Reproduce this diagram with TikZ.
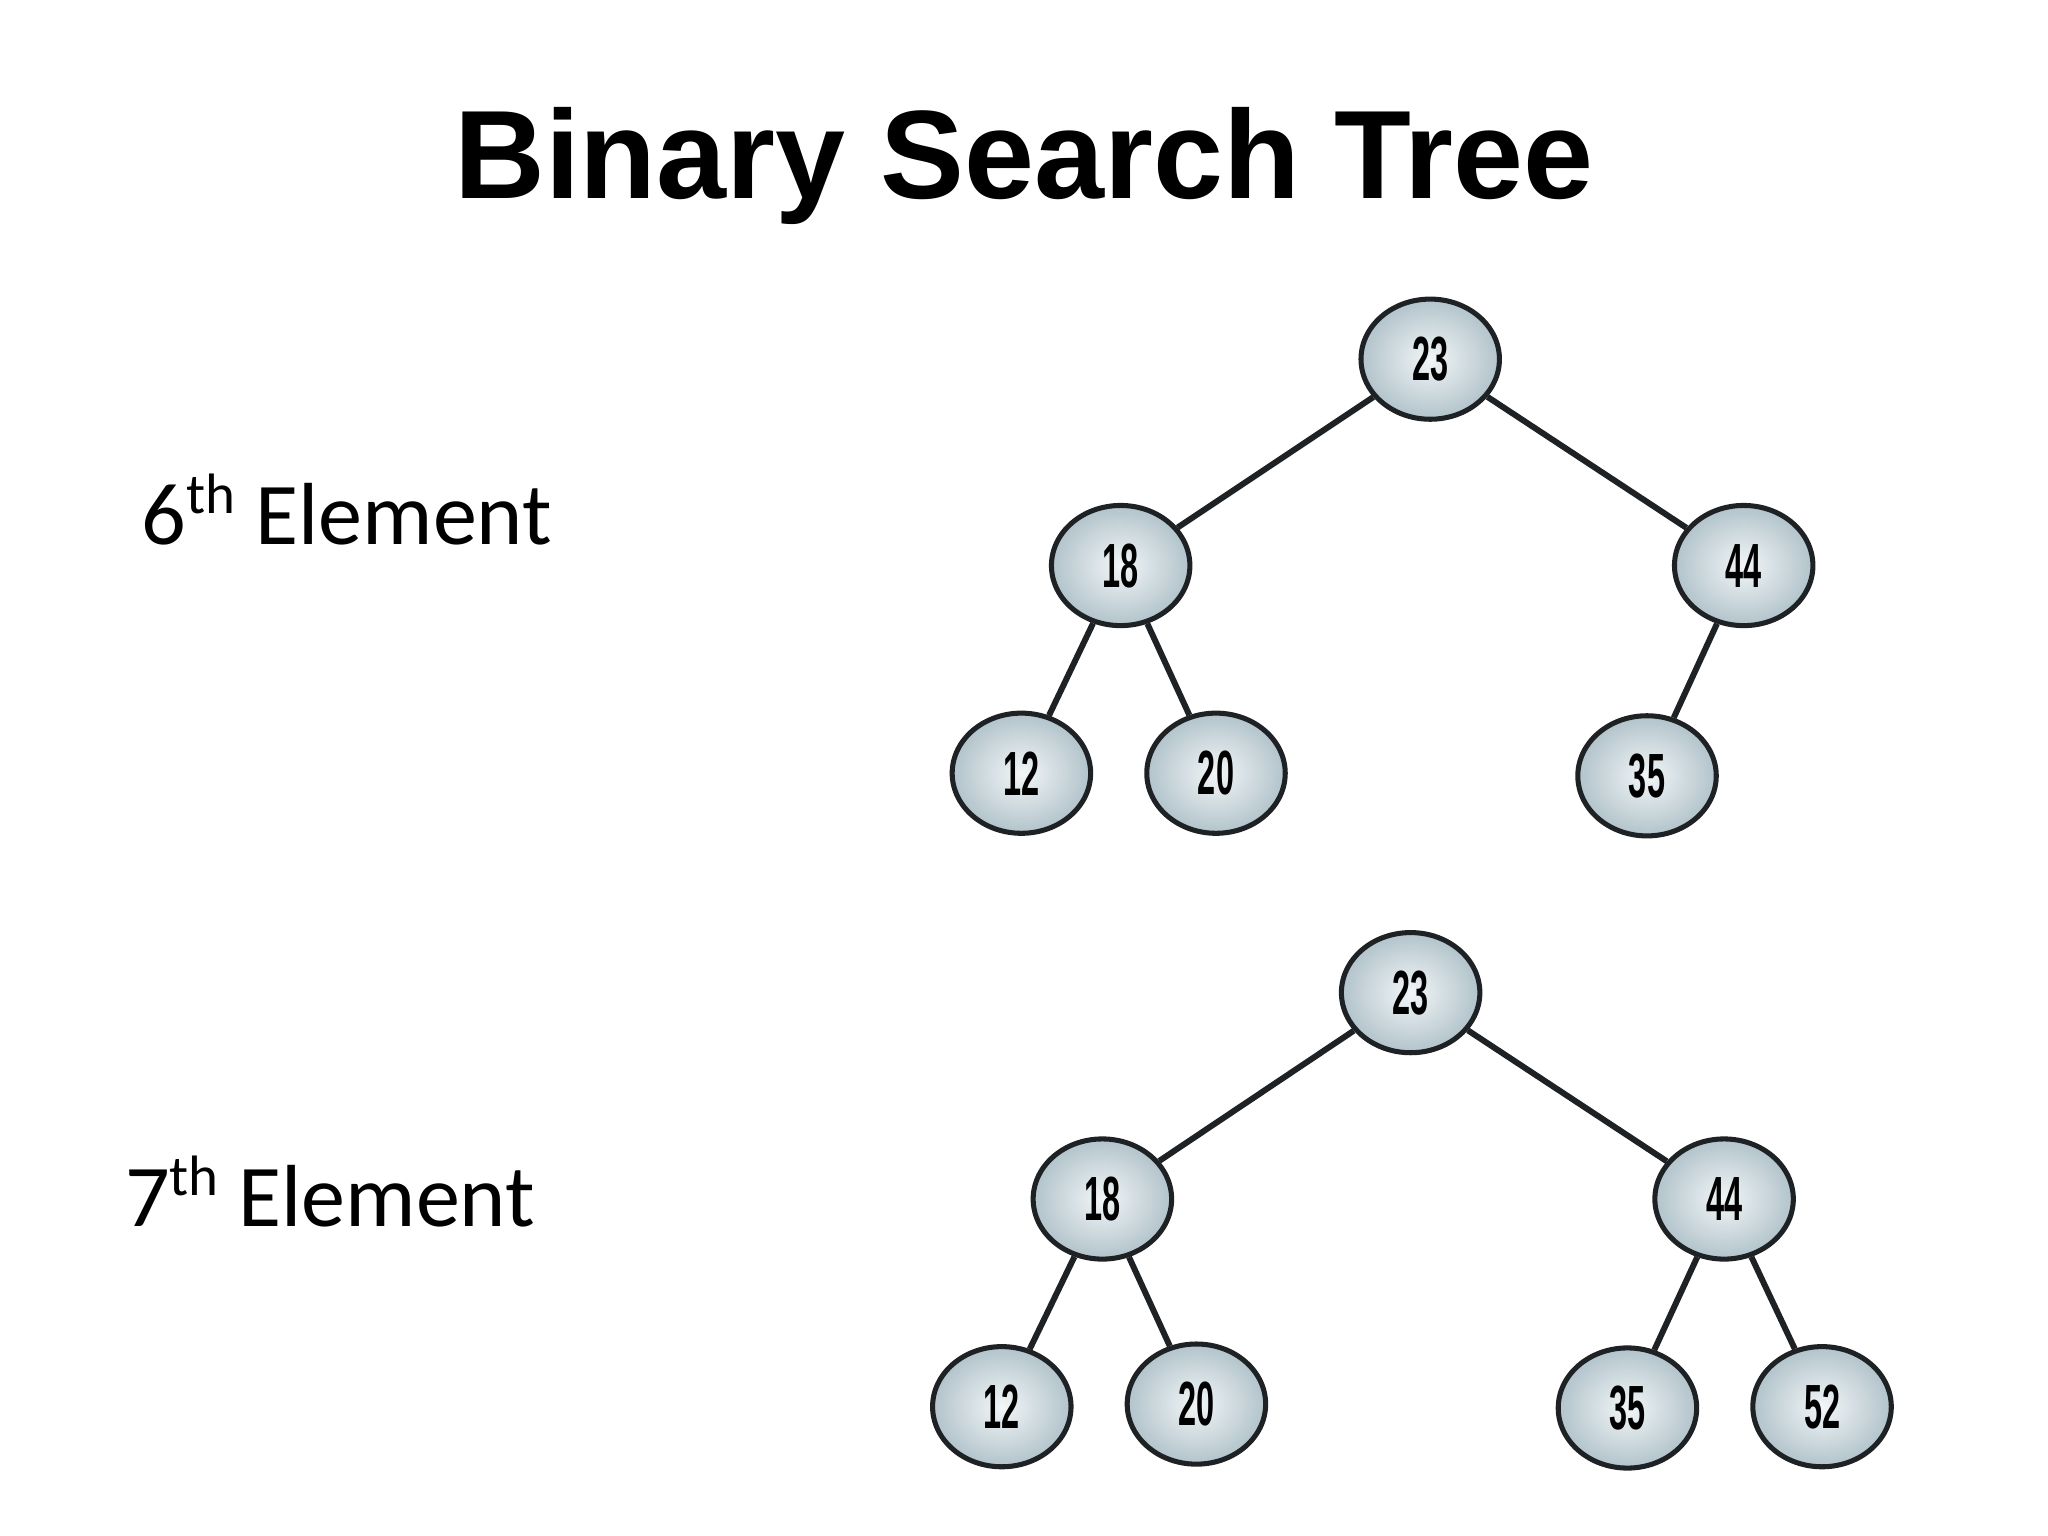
\documentclass[tikz,border=0pt]{standalone}
\usepackage{fontspec}
\setmainfont{Carlito}
\newfontfamily\titlefont{Liberation Sans}
\newfontfamily\keyfont[FakeStretch=0.52]{Liberation Sans}
\usepackage{tikz}
\usepackage{xcolor}
\definecolor{keyin}{HTML}{F2F6F7}
\definecolor{keyout}{HTML}{B2C3CB}
\definecolor{keyline}{HTML}{1E2224}
\newcommand{\ordsup}[1]{\raisebox{6.8pt}{\fontsize{12.4}{12}\selectfont #1}}
\tikzset{
  keynode/.style={ellipse, draw=keyline, line width=1.1pt, inner color=keyin, outer color=keyout,
    minimum width=1.06cm, minimum height=0.92cm, inner sep=0pt,
    font=\keyfont\fontsize{13.6}{13.6}\selectfont\bfseries},
  branch/.style={line width=1.3pt, keyline},
  rowlabel/.style={anchor=base west, inner sep=0pt, font=\fontsize{19.2}{23}\selectfont}
}
\usetikzlibrary{shapes.geometric}

\begin{document}
\begin{tikzpicture}
      \useasboundingbox (0, 0) rectangle (15.68, -11.76);
      \node[anchor=base, inner sep=0pt, font=\titlefont\fontsize{27.4}{32}\selectfont\bfseries] (title) at (7.84, -1.52) {Binary Search Tree};
      % 6th element
      \node[rowlabel] (six) at (1.08, -4.17) {6\ordsup{th} Element};
      \node[keynode] (a23) at (10.95, -2.75) {23};
      \node[keynode] (a18) at (8.58, -4.33) {18};
      \node[keynode] (a44) at (13.35, -4.33) {44};
      \node[keynode] (a12) at (7.82, -5.92) {12};
      \node[keynode] (a20) at (9.31, -5.92) {20};
      \node[keynode] (a35) at (12.61, -5.94) {35};
      \foreach \p/\c in {a23/a18, a23/a44, a18/a12, a18/a20, a44/a35}
        \draw[branch] (\p) -- (\c);
      % 7th element
      \node[rowlabel] (seven) at (0.95, -9.39) {7\ordsup{th} Element};
      \node[keynode] (b23) at (10.80, -7.60) {23};
      \node[keynode] (b18) at (8.44, -9.18) {18};
      \node[keynode] (b44) at (13.20, -9.18) {44};
      \node[keynode] (b12) at (7.67, -10.77) {12};
      \node[keynode] (b20) at (9.16, -10.75) {20};
      \node[keynode] (b35) at (12.46, -10.78) {35};
      \node[keynode] (b52) at (13.95, -10.77) {52};
      \foreach \p/\c in {b23/b18, b23/b44, b18/b12, b18/b20, b44/b35, b44/b52}
        \draw[branch] (\p) -- (\c);
    \end{tikzpicture}
\end{document}
